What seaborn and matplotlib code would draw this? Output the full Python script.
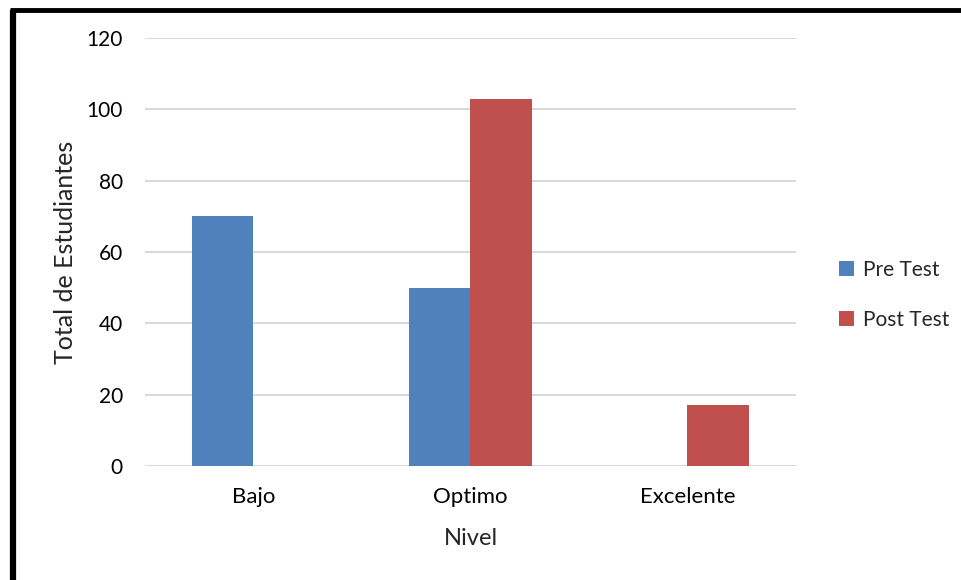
import matplotlib
matplotlib.use("Agg")
import matplotlib.pyplot as plt
from matplotlib.lines import Line2D
import seaborn as sns
import pandas as pd

# Data
niveles = ["Bajo", "Optimo", "Excelente"]
pre_test = [70, 50, 0]
post_test = [0, 103, 17]
series = ["Pre Test", "Post Test"]
y_ticks = [0, 20, 40, 60, 80, 100, 120]

df = pd.DataFrame({
    "Nivel": niveles * 2,
    "Total": pre_test + post_test,
    "Serie": [series[0]] * len(niveles) + [series[1]] * len(niveles),
})

sns.set_style("white")
plt.rcParams["font.family"] = ["Lato", "DejaVu Sans"]

fig = plt.figure(figsize=(9.62, 5.8), dpi=100)
ax = fig.add_axes([0.1507, 0.1966, 0.6767, 0.7379])

palette = {"Pre Test": "#4F81BD", "Post Test": "#C0504D"}
sns.barplot(data=df, x="Nivel", y="Total", hue="Serie", order=niveles,
            hue_order=series, palette=palette, width=0.571, gap=0,
            saturation=1, ax=ax, zorder=3, linewidth=0)

ax.set_xlim(-0.5, 2.5)
ax.set_ylim(0, 120)
ax.set_yticks(y_ticks)
ax.yaxis.grid(True, color="#d9d9d9", linewidth=1.5, zorder=0)
ax.set_axisbelow(True)
for s in ax.spines.values():
    s.set_visible(False)
ax.tick_params(axis="y", length=0, labelsize=15, colors="black", pad=16)
ax.tick_params(axis="x", length=0, labelsize=16, colors="black", pad=15)
ax.set_xlabel("Nivel", fontsize=17, labelpad=15)
ax.set_ylabel("Total de Estudiantes", fontsize=18, labelpad=7)

ax.legend(loc="center left", bbox_to_anchor=(1.037, 0.40), frameon=False,
          fontsize=15, handlelength=0.72, handleheight=0.72,
          handletextpad=0.45, labelspacing=1.45, title=None)

# Frame edges around the figure
fig.add_artist(Line2D([13 / 962, 13 / 962], [0, 1 - 10 / 580], color="black",
                      linewidth=4.5, transform=fig.transFigure,
                      solid_capstyle="butt"))
fig.add_artist(Line2D([10 / 962, 1], [1 - 10 / 580, 1 - 10 / 580], color="black",
                      linewidth=3.5, transform=fig.transFigure,
                      solid_capstyle="butt"))

fig.savefig("out.png", dpi=100)
